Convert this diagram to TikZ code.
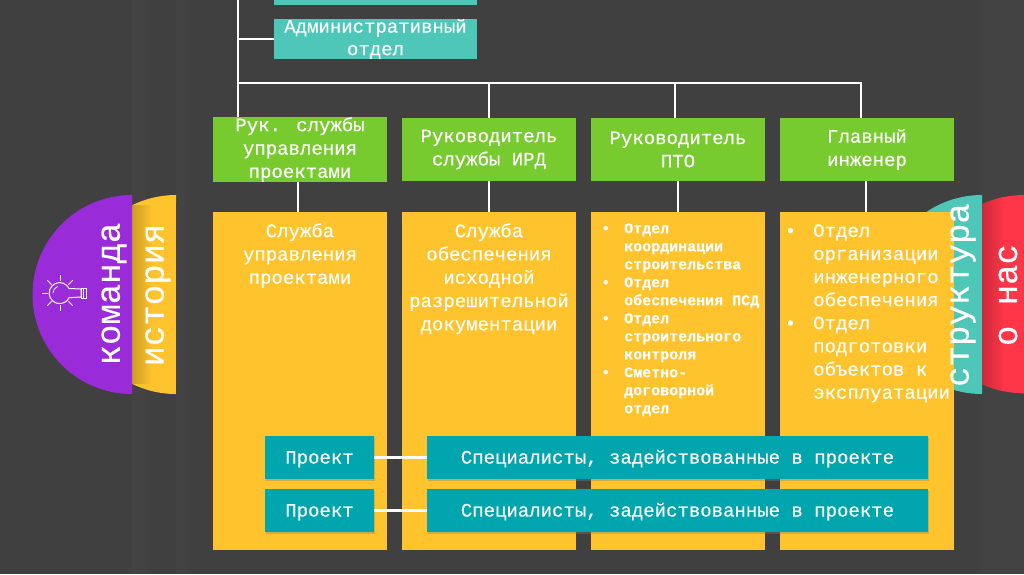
\documentclass[tikz,border=0pt]{standalone}
\usepackage{fontspec}
\setmainfont{Liberation Mono}[FakeBold=0.25]
\usetikzlibrary{shadows}
\definecolor{figBg}{RGB}{64,64,64}
\definecolor{figStripe}{RGB}{67,67,67}
\definecolor{figG}{RGB}{119,203,46}
\definecolor{figY}{RGB}{255,195,45}
\definecolor{figT}{RGB}{79,199,184}
\definecolor{figP}{RGB}{0,165,173}
\definecolor{figV}{RGB}{154,43,216}
\definecolor{figR}{RGB}{255,53,72}
\newcommand{\blt}{\llap{\textbullet\hspace{14pt}}}
\newcommand{\bltb}{\llap{\textbullet\hspace{17pt}}}
\tikzset{
  conn/.style={draw=white,line width=2.7pt},
  headbox/.style={fill=figG,minimum width=174pt,minimum height=63pt,inner sep=0pt,text=white,align=center,font=\fontsize{19}{23.3}\selectfont,execute at begin node={\rule{0pt}{19pt}}},
  deptbox/.style={fill=figY,minimum width=174pt,minimum height=338pt,inner sep=0pt},
  depttext/.style={anchor=north,text=white,align=center,inner sep=0pt,font=\fontsize{19}{23.3}\selectfont},
  listtext/.style={anchor=north west,text=white,align=left,inner sep=0pt},
  projbox/.style={fill=figP,inner sep=0pt,text=white,font=\fontsize{19}{23}\selectfont,execute at begin node={\rule{0pt}{16pt}},drop shadow={shadow xshift=1.2pt,shadow yshift=-1.5pt,opacity=.35}},
  tablabel/.style={rotate=90,text=white,inner sep=0pt,font=\fontsize{34}{34}\selectfont}
}
\begin{document}
\begin{tikzpicture}[x=1pt,y=-1pt]
\useasboundingbox (0,0) rectangle (1024,574);
\clip (0,0) rectangle (1024,574);
\fill[figBg] (0,0) rectangle (1024,574);
\foreach \xa/\xb in {132/146,176/186,982/1024}
  \fill[figStripe] (\xa,0) rectangle (\xb,574);
% tabs on the left
\fill[figY] (176,195) arc[start angle=90,end angle=116.2,radius=99.5pt] -- (132,383.8) arc[start angle=243.8,end angle=270,radius=99.5pt] -- cycle;
\shade[left color=figY!80!black,right color=figY] (132,205.5) rectangle (152,383.5);
\fill[figV] (132,195) arc[start angle=90,end angle=270,radius=99.5pt] -- cycle;
% lamp
\draw[white,line width=1pt] (69.1,288.5) arc[start angle=26,end angle=334,radius=10.5pt] -- (81,297) -- (81,289) -- cycle;
\draw[white,line width=1pt] (81,288) rectangle (86,298) (83.5,288) -- (83.5,298);
\draw[white,line width=.7pt] (53,293) arc[start angle=180,end angle=110,radius=7pt];
\foreach \ang in {45,90,135,180,225,270,315}
  \draw[white,line width=1pt] (60,293) ++(\ang:12pt) -- ++(\ang:6pt);
% tabs on the right
\fill[figT] (982,195) arc[start angle=90,end angle=270,radius=99.5pt] -- cycle;
\fill[figR] (982,205) -- (982,384) arc[start angle=245,end angle=270,radius=99.5pt] -- (1024,195) arc[start angle=90,end angle=115,radius=99.5pt] -- cycle;
\begin{scope}
\clip (982,205) -- (982,384) arc[start angle=245,end angle=270,radius=99.5pt] -- (1024,195) arc[start angle=90,end angle=115,radius=99.5pt] -- cycle;
\shade[left color=figR!80!black,right color=figR] (982,195) rectangle (1004,394);
\end{scope}
% top of the chart
\node[fill=figT,minimum width=203pt,minimum height=6pt,inner sep=0pt] (topbox) at (375.5,2) {};
\node[fill=figT,minimum width=203pt,minimum height=38pt,inner sep=0pt,text=white,align=center,font=\fontsize{19}{22.5}\selectfont,execute at begin node={\rule{0pt}{16pt}}] (admbox) at (375.5,39) {Административный\\отдел};
% heads
\node[headbox] (rukA) at (300,149.5) {Рук. службы\\управления\\проектами};
\node[headbox] (rukB) at (489,149.5) {Руководитель\\службы ИРД};
\node[headbox] (rukC) at (678,149.5) {Руководитель\\ПТО};
\node[headbox] (rukD) at (867,149.5) {Главный\\инженер};
% departments
\node[deptbox] (deptA) at (300,381) {};
\node[deptbox] (deptB) at (489,381) {};
\node[deptbox] (deptC) at (678,381) {};
\node[deptbox] (deptD) at (867,381) {};
\node[depttext] (textA) at (300,223) {Служба\\управления\\проектами};
\node[depttext] (textB) at (489,223) {Служба\\обеспечения\\исходной\\разрешительной\\документации};
\node[listtext,font=\bfseries\fontsize{15}{18}\selectfont] (textC) at (624,223) {\blt Отдел\\координации\\строительства\\\blt Отдел\\обеспечения ПСД\\\blt Отдел\\строительного\\контроля\\\blt Сметно-\\договорной\\отдел};
\node[listtext,font=\fontsize{19}{23.1}\selectfont] (textD) at (813,224) {\bltb Отдел\\организации\\инженерного\\обеспечения\\\bltb Отдел\\подготовки\\объектов к\\эксплуатации};
% lines
\coordinate (trunk) at (238,0);
\coordinate (bus) at (238,83);
\draw[conn] (trunk) -- ([xshift=-62pt]rukA.north);
\draw[conn] (admbox.west) -- (admbox.west -| trunk);
\draw[conn] (bus) -| ([xshift=-6pt]rukD.north);
\draw[conn] (rukB.north) -- (rukB.north |- bus);
\draw[conn] ([xshift=-3pt]rukC.north) -- ([xshift=-3pt]rukC.north |- bus);
\draw[conn] ([xshift=-2pt]rukA.south) -- ([xshift=-2pt]deptA.north);
\draw[conn] (rukB.south) -- (deptB.north);
\draw[conn] (rukC.south) -- (deptC.north);
\draw[conn] ([xshift=-1pt]rukD.south) -- ([xshift=-1pt]deptD.north);
% projects
\node[projbox,minimum width=109pt,minimum height=43pt] (projA) at (319.5,457.5) {Проект};
\node[projbox,minimum width=109pt,minimum height=43pt] (projB) at (319.5,510.5) {Проект};
\node[projbox,minimum width=501pt,minimum height=43pt] (specA) at (677.5,457.5) {Специалисты, задействованные в проекте};
\node[projbox,minimum width=501pt,minimum height=43pt] (specB) at (677.5,510.5) {Специалисты, задействованные в проекте};
\draw[conn] (projA) -- (specA);
\draw[conn] (projB) -- (specB);
% tab labels
\node[tablabel] (labKom) at (114,294) {команда};
\node[tablabel] (labIst) at (158,295) {история};
\node[tablabel] (labStr) at (963,295) {структура};
\node[tablabel] (labNas) at (1008,295) {о нас};
\end{tikzpicture}
\end{document}
